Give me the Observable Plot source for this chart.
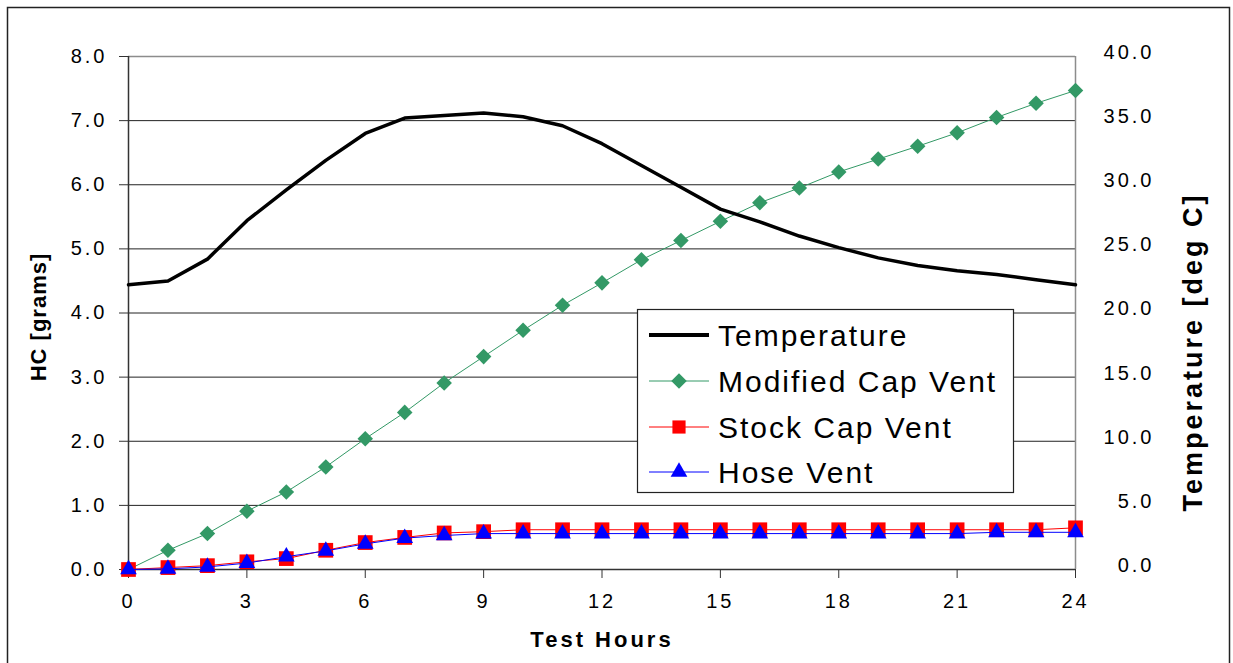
<!DOCTYPE html>
<html><head><meta charset="utf-8">
<script src="https://cdn.jsdelivr.net/npm/d3@7"></script>
<script src="https://cdn.jsdelivr.net/npm/@observablehq/plot@0.6"></script>
<style>
body{margin:0;background:#fff;}
#chart svg{display:block;}
</style></head><body><div id="chart"></div>
<script>
// ---- data ----
const hours = [0,1,2,3,4,5,6,7,8,9,10,11,12,13,14,15,16,17,18,19,20,21,22,23,24];
const temperature = [22.2,22.5,24.2,27.2,29.6,31.9,34.0,35.2,35.4,35.6,35.3,34.6,33.2,31.5,29.8,28.1,27.1,26.0,25.1,24.3,23.7,23.3,23.0,22.6,22.2];
const modifiedCapVent = [0.00,0.30,0.56,0.91,1.21,1.60,2.04,2.45,2.91,3.32,3.73,4.12,4.47,4.83,5.13,5.43,5.72,5.95,6.20,6.40,6.60,6.81,7.05,7.27,7.47];
const stockCapVent = [0.00,0.03,0.06,0.12,0.17,0.30,0.42,0.50,0.57,0.59,0.62,0.62,0.62,0.62,0.62,0.62,0.62,0.62,0.62,0.62,0.62,0.62,0.62,0.62,0.65];
const hoseVent = [0.00,0.01,0.04,0.10,0.20,0.29,0.40,0.49,0.53,0.56,0.56,0.56,0.56,0.56,0.56,0.56,0.56,0.56,0.56,0.56,0.56,0.56,0.58,0.58,0.58];
const hcTicks = [0,1,2,3,4,5,6,7,8];
const tempTicks = [0,5,10,15,20,25,30,35,40];
const hourTicks = [0,3,6,9,12,15,18,21,24];
const seriesNames = ["Temperature","Modified Cap Vent","Stock Cap Vent","Hose Vent"];
const xTitle = "Test Hours", yTitle = "HC [grams]", y2Title = "Temperature [deg C]";
const tempPerHC = 5; // right axis 0–40 spans left axis 0–8

const GREEN = "#339966", RED = "#FF0000", BLUE = "#0000FF";
const FONT = '"Liberation Sans", Arial, Helvetica, sans-serif';

const rows = hours.map((h,i)=>({h, temp: temperature[i], mod: modifiedCapVent[i], stock: stockCapVent[i], hose: hoseVent[i]}));

const R_DIA = 7, R_SQ = 8.3, R_TRI = 6.2;

const plot = Plot.plot({
  width: 1233, height: 663,
  marginLeft: 128, marginRight: 158, marginTop: 56, marginBottom: 94,
  x: {domain: [0, 24]},
  y: {domain: [0, 8]},
  style: {fontFamily: FONT, background: "white", color: "black", letterSpacing: "3px", overflow: "visible"},
  marks: [
    Plot.ruleY(hcTicks.filter(d => d > 0 && d < 8), {stroke: "#222", strokeWidth: 1}),
    Plot.ruleY([8], {stroke: "#8c8c8c", strokeWidth: 1.5}),
    Plot.ruleX([24], {stroke: "#8c8c8c", strokeWidth: 1.5}),
    Plot.axisY({ticks: hcTicks, tickFormat: d => d.toFixed(1), tickSize: 9, tickPadding: 12, fontSize: 20, label: null, stroke: "#333"}),
    Plot.axisY({anchor: "right", ticks: tempTicks.map(t => t / tempPerHC), tickFormat: d => (d * tempPerHC).toFixed(1), tickSize: 0, tickPadding: 79, textAnchor: "end", dy: -4, fontSize: 20, label: null}),
    Plot.axisX({ticks: hourTicks, tickSize: 9, tickPadding: 15, fontSize: 20, label: null, stroke: "#333"}),
    Plot.ruleX([0], {stroke: "#333", strokeWidth: 1.5}),
    Plot.ruleY([0], {stroke: "#333", strokeWidth: 1.5}),
    // series
    Plot.line(rows, {x: "h", y: "mod", stroke: GREEN, strokeWidth: 1}),
    Plot.dot(rows, {x: "h", y: "mod", symbol: "diamond2", r: R_DIA, fill: GREEN, stroke: "none"}),
    Plot.line(rows, {x: "h", y: "stock", stroke: RED, strokeWidth: 1}),
    Plot.dot(rows, {x: "h", y: "stock", symbol: "square", r: R_SQ, fill: RED, stroke: "none"}),
    Plot.line(rows, {x: "h", y: "hose", stroke: BLUE, strokeWidth: 1}),
    Plot.dot(rows, {x: "h", y: "hose", symbol: "triangle", r: R_TRI, fill: BLUE, stroke: "none"}),
    Plot.line(rows, {x: "h", y: d => d.temp / tempPerHC, stroke: "black", strokeWidth: 3.5}),
    // titles
    Plot.text([xTitle], {frameAnchor: "bottom", textAnchor: "middle", lineAnchor: "middle", dy: 70, fontSize: 22, fontWeight: "bold", text: d => d}),
    Plot.text([yTitle], {frameAnchor: "left", textAnchor: "middle", lineAnchor: "middle", dx: -90, dy: 4, rotate: -90, fontSize: 22, fontWeight: "bold", text: d => d}),
    Plot.text([y2Title], {frameAnchor: "right", textAnchor: "middle", lineAnchor: "middle", dx: 118, dy: 39, rotate: -90, fontSize: 27, fontWeight: "bold", text: d => d})
  ]
});

const svg = d3.select(plot);
svg.selectAll('g[aria-label="text"] text').filter(function(){return this.textContent===yTitle;}).attr("letter-spacing","1px");

// outer frame
svg.append("rect").attr("x",7.5).attr("y",7.5).attr("width",1222).attr("height",700)
  .attr("fill","none").attr("stroke","#222").attr("stroke-width",1.5);

// legend
const lg = svg.append("g").attr("font-family", FONT).attr("font-size", 30).attr("letter-spacing","2px").attr("text-anchor","start");
lg.append("rect").attr("x",637.5).attr("y",309.5).attr("width",376).attr("height",183)
  .attr("fill","white").attr("stroke","#222").attr("stroke-width",1.2);
const entries = [
  {name: seriesNames[0], color: "black", w: 4, sym: null},
  {name: seriesNames[1], color: GREEN, w: 1, sym: d3.symbolDiamond2, size: Math.PI*R_DIA*R_DIA},
  {name: seriesNames[2], color: RED, w: 1, sym: d3.symbolSquare, size: Math.PI*R_SQ*R_SQ*0.8},
  {name: seriesNames[3], color: BLUE, w: 1, sym: d3.symbolTriangle, size: Math.PI*R_TRI*R_TRI}
];
const ys = [335, 381, 427, 472];
entries.forEach((e,i)=>{
  const y = ys[i];
  lg.append("line").attr("x1",649).attr("x2",709).attr("y1",y).attr("y2",y).attr("stroke",e.color).attr("stroke-width",e.w);
  if (e.sym) lg.append("path").attr("d", d3.symbol(e.sym, e.size)()).attr("transform",`translate(679,${y})`).attr("fill",e.color);
  lg.append("text").attr("x",718).attr("y",y).attr("dy","0.36em").attr("text-anchor","start").text(e.name);
});

document.getElementById("chart").appendChild(plot);
</script></body></html>
